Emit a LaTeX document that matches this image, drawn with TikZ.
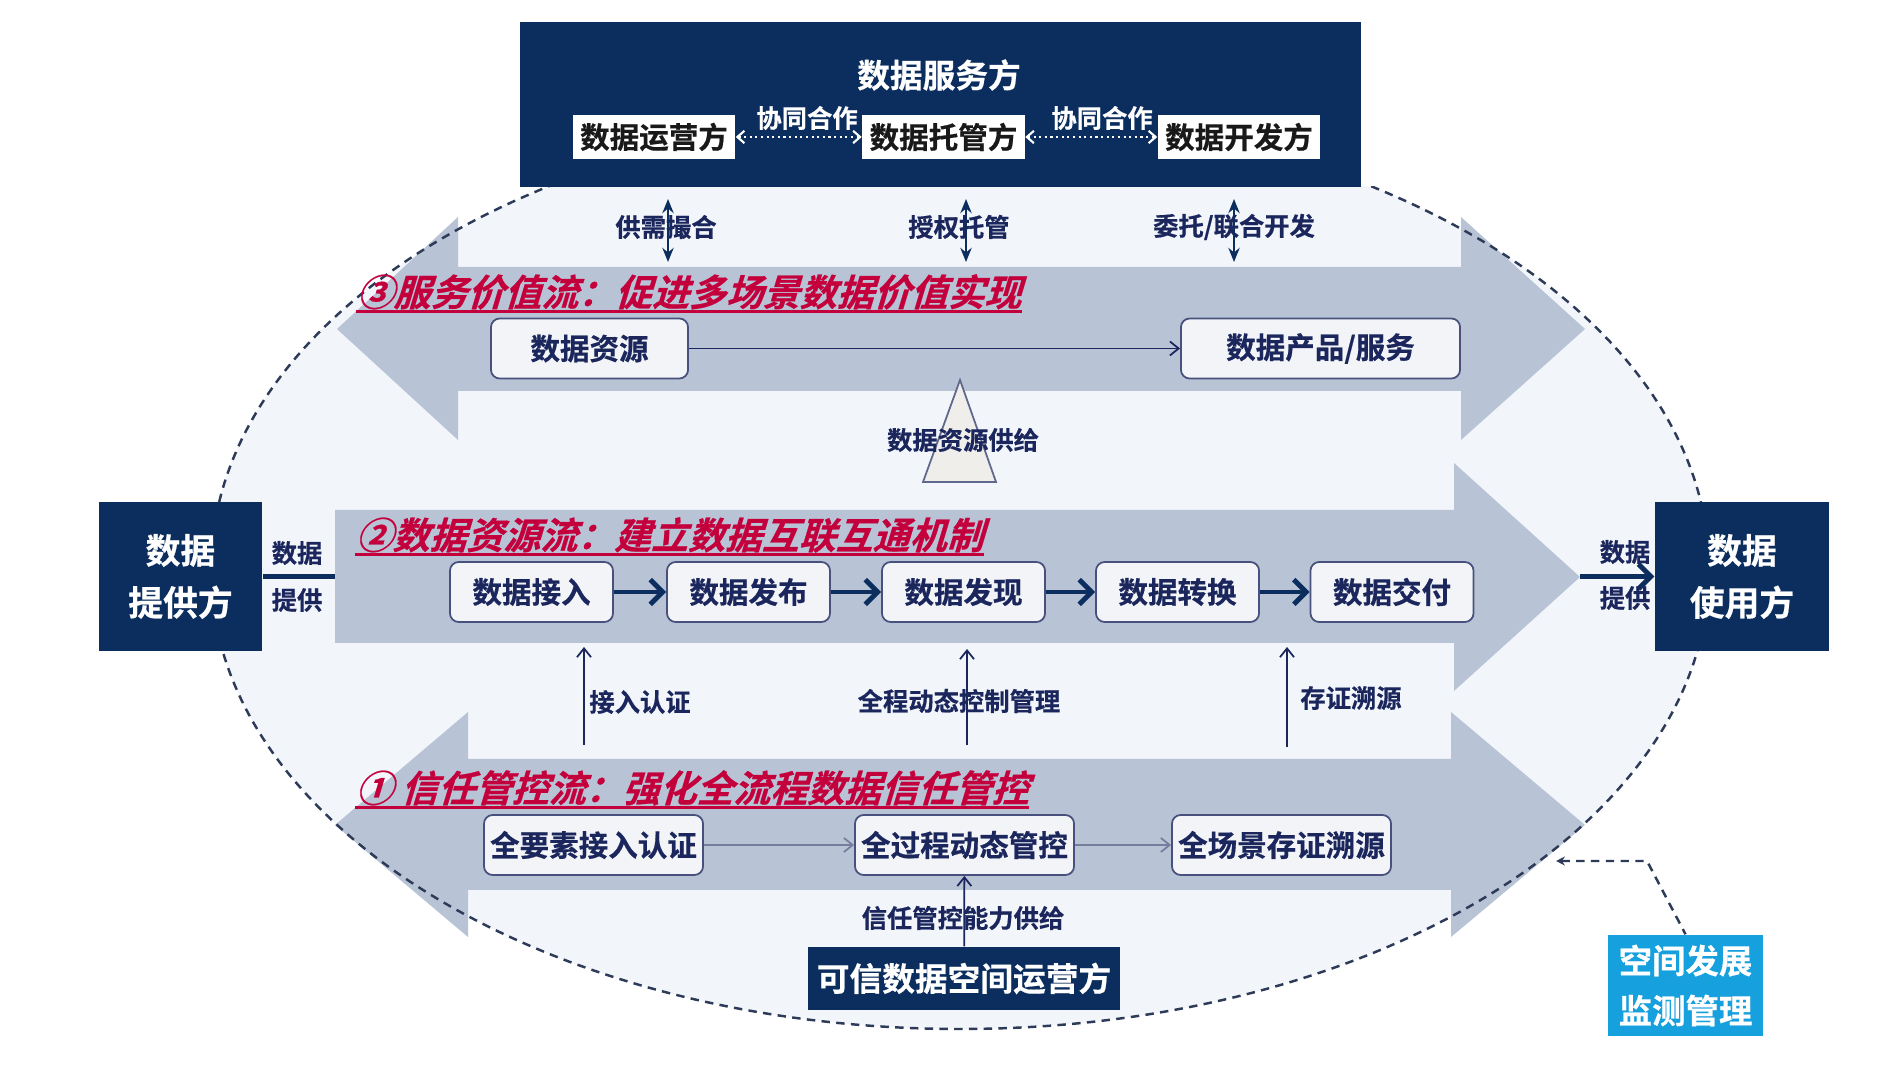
\documentclass[tikz,border=0pt]{standalone}
\usepackage{fontspec}
\setmainfont{Noto Sans CJK SC}[UprightFont=* Bold, FakeBold=0.5]
\newfontfamily\slantcjk{Noto Sans CJK SC}[UprightFont=* Bold, FakeSlant=0.3, FakeBold=0.6]
\usetikzlibrary{arrows.meta}

\definecolor{navy}{RGB}{12,46,94}
\definecolor{inknavy}{RGB}{26,38,92}
\definecolor{bandgray}{RGB}{184,196,214}
\definecolor{spacefill}{RGB}{242,246,251}
\definecolor{boxfill}{RGB}{243,244,247}
\definecolor{flowred}{RGB}{196,0,60}
\definecolor{skyblue}{RGB}{22,160,222}
\definecolor{trifill}{RGB}{240,238,234}
\definecolor{dashgray}{RGB}{45,58,88}

\begin{document}
\begin{tikzpicture}[x=0.01cm, y=-0.01cm,
    band/.style={fill=bandgray},
    flowbox/.style={draw=inknavy!80, line width=0.5pt, fill=boxfill, rounded corners=2.5pt,
        text=inknavy, font=\fontsize{8.4}{10}\selectfont, minimum height=0.6cm, inner sep=0pt},
    partybox/.style={fill=white, text=black!90, font=\fontsize{8.4}{10}\selectfont,
        minimum width=1.62cm, minimum height=0.44cm, inner sep=0pt},
    darkbox/.style={fill=navy, text=white, inner sep=0pt, align=center},
    smalltext/.style={text=inknavy, font=\fontsize{7.2}{8}\selectfont, inner sep=0pt},
    flowtitle/.style={text=flowred, font=\slantcjk\fontsize{10.5}{12}\selectfont,
        inner sep=0pt, anchor=base west},
    underbar/.style={draw=flowred, line width=0.9pt},
    thinarrow/.style={draw=inknavy, line width=0.5pt, -{Straight Barb[length=2.5pt,width=4pt]}},
    thickarrow/.style={draw=navy, line width=1.4pt, -{Straight Barb[length=3.5pt,width=7pt]}},
    twoway/.style={draw=navy, line width=0.8pt,
        {Stealth[length=4pt,width=3.2pt]}-{Stealth[length=4pt,width=3.2pt]}},
    dotlink/.style={draw=white, line width=0.6pt, densely dotted,
        {Straight Barb[length=2pt,width=3.5pt]}-{Straight Barb[length=2pt,width=3.5pt]}},
    spaceline/.style={draw=dashgray, line width=0.7pt, dash pattern=on 2.4pt off 1.8pt}]

    % Page
    \fill[white] (0,0) rectangle (1885,1083);

    % Trusted data space (ellipse)
    \begin{scope}
        \clip (0,187) rectangle (1885,1083);
        \fill[spacefill] (960,570) ellipse [x radius=749, y radius=459];
    \end{scope}

    % Flow bands
    \fill[band] (337,329) -- (458,217) -- (458,267) -- (1461,267) -- (1461,217) -- (1585,329)
        -- (1461,440) -- (1461,391) -- (458,391) -- (458,440) -- cycle;
    \fill[band] (335,510) -- (1454,510) -- (1454,463) -- (1580,577) -- (1454,691) -- (1454,643)
        -- (335,643) -- cycle;
    \fill[band] (335,825) -- (468,712) -- (468,759) -- (1451,759) -- (1451,712) -- (1585,825)
        -- (1451,937) -- (1451,890) -- (468,890) -- (468,937) -- cycle;

    % Ellipse outline
    \begin{scope}
        \clip (0,187) rectangle (1885,1083);
        \draw[spaceline] (960,570) ellipse [x radius=749, y radius=459];
    \end{scope}

    % Data service side
    \node[darkbox, minimum width=8.41cm, minimum height=1.65cm] (svc) at (940.5,104.5) {};
    \node[text=white, font=\fontsize{9.3}{11}\selectfont] (svctitle) at (939,75) {数据服务方};
    \node[partybox] (op) at (654,137) {数据运营方};
    \node[partybox] (cust) at (943.5,137) {数据托管方};
    \node[partybox] (dev) at (1239,137) {数据开发方};
    \node[text=white, font=\fontsize{7.2}{8}\selectfont, inner sep=0pt] (coop1) at (807,118) {协同合作};
    \node[text=white, font=\fontsize{7.2}{8}\selectfont, inner sep=0pt] (coop2) at (1102,118) {协同合作};
    \draw[dotlink] (op) -- (cust);
    \draw[dotlink] (cust) -- (dev);

    % Service links
    \node[smalltext] (match) at (666,227) {供需撮合};
    \node[smalltext] (auth) at (959,227) {授权托管};
    \node[smalltext] (jointdev) at (1234,227) {委托/联合开发};
    \coordinate (m1) at (668,199);  \coordinate (m2) at (668,262);
    \coordinate (a1) at (966,199);  \coordinate (a2) at (966,262);
    \coordinate (j1) at (1234,199); \coordinate (j2) at (1234,262);
    \draw[twoway] (m1) -- (m2);
    \draw[twoway] (a1) -- (a2);
    \draw[twoway] (j1) -- (j2);

    % 3: service value flow
    \node[flowtitle] (t3) at (356,306) {③服务价值流：促进多场景数据价值实现};
    \draw[underbar] ([yshift=-1.5pt]t3.base west) -- ([yshift=-1.5pt]t3.base east);
    \node[flowbox, minimum width=1.97cm] (res) at (589.5,348.5) {数据资源};
    \node[flowbox, minimum width=2.79cm] (prod) at (1320.5,348.5) {数据产品/服务};
    \draw[thinarrow] (res) -- (prod);

    % Resource supply
    \draw[fill=trifill, draw=inknavy!70, line width=0.5pt] (960,380) -- (996,482) -- (923,482) -- cycle;
    \node[smalltext] (supply) at (963,440) {数据资源供给};

    % 2: data resource flow
    \node[flowtitle] (t2) at (355,549) {②数据资源流：建立数据互联互通机制};
    \draw[underbar] ([yshift=-1.5pt]t2.base west) -- ([yshift=-1.5pt]t2.base east);
    \node[flowbox, minimum width=1.63cm] (acc) at (531.5,592) {数据接入};
    \node[flowbox, minimum width=1.63cm] (pub) at (748.5,592) {数据发布};
    \node[flowbox, minimum width=1.63cm] (disc) at (963.5,592) {数据发现};
    \node[flowbox, minimum width=1.63cm] (conv) at (1177.5,592) {数据转换};
    \node[flowbox, minimum width=1.63cm] (deliv) at (1392,592) {数据交付};
    \foreach \a/\b in {acc/pub, pub/disc, disc/conv, conv/deliv}
        \draw[thickarrow] (\a) -- (\b);

    % Provider and user
    \node[darkbox, minimum width=1.63cm, minimum height=1.49cm,
        font=\fontsize{9.9}{14.8}\selectfont] (prov) at (180.5,576.5) {数据\\提供方};
    \node[darkbox, minimum width=1.74cm, minimum height=1.49cm,
        font=\fontsize{9.9}{14.8}\selectfont] (user) at (1742,576.5) {数据\\使用方};
    \coordinate (bandL) at (335,576.5);
    \coordinate (bandR) at (1580,576.5);
    \draw[navy, line width=1.4pt] (prov.east) -- (bandL);
    \draw[thickarrow] (bandR) -- (user.west);
    \node[smalltext] (giveL1) at (297,553) {数据};
    \node[smalltext] (giveL2) at (297,600) {提供};
    \node[smalltext] (giveR1) at (1625,552) {数据};
    \node[smalltext] (giveR2) at (1625,598) {提供};

    % Trust support for the resource flow
    \node[smalltext] (certif) at (640,702) {接入认证};
    \node[smalltext] (dynctl) at (959,701) {全程动态控制管理};
    \node[smalltext] (trace) at (1351,698) {存证溯源};
    \coordinate (c1) at (584,745);  \coordinate (c2) at (584,647);
    \coordinate (d1) at (967,745);  \coordinate (d2) at (967,649);
    \coordinate (e1) at (1287,747); \coordinate (e2) at (1287,647);
    \draw[thinarrow] (c1) -- (c2);
    \draw[thinarrow] (d1) -- (d2);
    \draw[thinarrow] (e1) -- (e2);

    % 1: trust control flow
    \node[flowtitle] (t1) at (355,802) {① 信任管控流：强化全流程数据信任管控};
    \draw[underbar] ([yshift=-1.5pt]t1.base west) -- ([yshift=-1.5pt]t1.base east);
    \node[flowbox, minimum width=2.19cm] (elem) at (593.5,845) {全要素接入认证};
    \node[flowbox, minimum width=2.19cm] (proc) at (964.5,845) {全过程动态管控};
    \node[flowbox, minimum width=2.19cm] (scene) at (1281.5,845) {全场景存证溯源};
    \draw[thinarrow, draw=inknavy!60] (elem) -- (proc);
    \draw[thinarrow, draw=inknavy!60] (proc) -- (scene);

    % Space operator
    \node[darkbox, minimum width=3.12cm, minimum height=0.63cm,
        font=\fontsize{9.3}{11}\selectfont] (oper) at (964,978.5) {可信数据空间运营方};
    \node[smalltext] (capab) at (963,918) {信任管控能力供给};
    \draw[thinarrow] (oper) -- (proc);

    % Monitoring
    \node[fill=skyblue, text=white, minimum width=1.55cm, minimum height=1.01cm, align=center,
        inner sep=0pt, font=\fontsize{9.5}{14.2}\selectfont] (mon) at (1685.5,985.5) {空间发展\\监测管理};
    \coordinate (edge) at (1556,861);
    \coordinate (bend) at (1647,861);
    \draw[spaceline, {Stealth[length=2.5pt,width=2.5pt]}-] (edge) -- (bend) -- (mon.north);
\end{tikzpicture}
\end{document}
